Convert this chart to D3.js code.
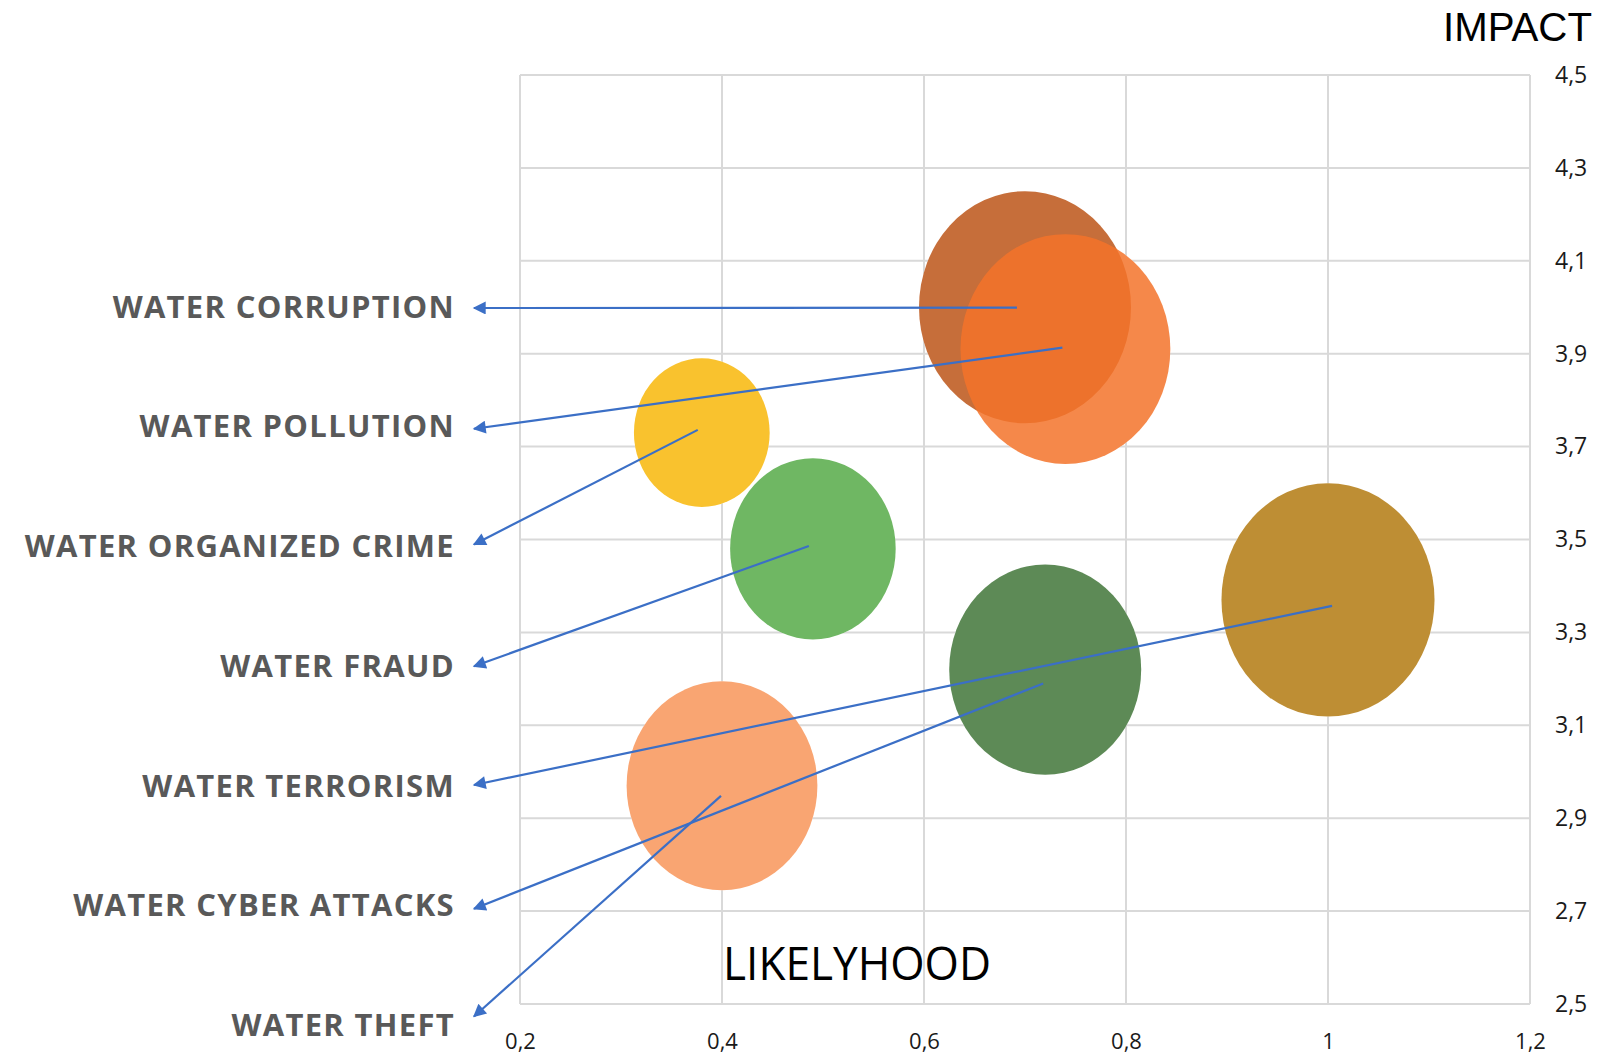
<!DOCTYPE html>
<html>
<head>
<meta charset="utf-8">
<script src="https://cdn.jsdelivr.net/npm/d3@7"></script>
<style>
  html, body { margin: 0; padding: 0; background: #ffffff; }
  svg { display: block; }
</style>
</head>
<body>
<svg id="chart" width="1605" height="1058"></svg>
<script>
// ---------------- data ----------------
const categories = ["WATER CORRUPTION", "WATER POLLUTION", "WATER ORGANIZED CRIME", "WATER FRAUD",
                    "WATER TERRORISM", "WATER CYBER ATTACKS", "WATER THEFT"];
const likelihood = [0.70, 0.74, 0.38, 0.49, 1.00, 0.72, 0.40];
const impact     = [4.00, 3.91, 3.73, 3.48, 3.37, 3.22, 2.97];
const bubbleSize = [1.00, 0.98, 0.41, 0.61, 1.01, 0.82, 0.81];
// arrow anchor points (data units) inside each bubble
const arrowFromX = [0.692, 0.737, 0.376, 0.486, 1.004, 0.718, 0.399];
const arrowFromY = [3.999, 3.913, 3.736, 3.486, 3.357, 3.190, 2.948];
const xTicks = [0.2, 0.4, 0.6, 0.8, 1.0, 1.2];
const yTicks = [2.5, 2.7, 2.9, 3.1, 3.3, 3.5, 3.7, 3.9, 4.1, 4.3, 4.5];
const xTitle = "LIKELYHOOD";
const yTitle = "IMPACT";

// ---------------- styles ----------------
const bubbleColors  = ["#C66E3A", "#F3732A", "#F9C22E", "#6FB763", "#BE8E34", "#5D8A56", "#F9A572"];
const bubbleOpacity = [1, 0.85, 1, 1, 1, 1, 1];
const tipDy = [0, 1, -3, -1, -2, 2, -10];

// ---------------- layout ----------------
const svg = d3.select("#chart");
const x = d3.scaleLinear().domain([0.2, 1.2]).range([520, 1530]);
const y = d3.scaleLinear().domain([2.5, 4.5]).range([1004, 75]);
const r = d3.scaleSqrt().domain([0, 1]).range([0, 106]);
const aspect = 1.095;
const fmt = d => String(d).replace(".", ",");

// grid
const grid = svg.append("g");
grid.selectAll("line.v").data(xTicks).join("line")
  .attr("x1", d => x(d)).attr("x2", d => x(d))
  .attr("y1", y(4.5)).attr("y2", y(2.5))
  .attr("stroke", "#D9D9D9").attr("stroke-width", 2);
grid.selectAll("line.h").data(yTicks).join("line")
  .attr("x1", x(0.2)).attr("x2", x(1.2))
  .attr("y1", d => y(d)).attr("y2", d => y(d))
  .attr("stroke", "#D9D9D9").attr("stroke-width", 2);

// axes labels
const yAxis = d3.axisRight(y).tickValues(yTicks).tickFormat(fmt).tickSize(0).tickPadding(25);
const gy = svg.append("g").attr("transform", `translate(${x(1.2)},0)`).call(yAxis);
gy.select(".domain").remove();
gy.selectAll("text").attr("font-family", "'Open Sans', sans-serif").attr("font-size", 23).attr("fill", "#1a1a1a");

const xAxis = d3.axisBottom(x).tickValues(xTicks).tickFormat(fmt).tickSize(0).tickPadding(29);
const gx = svg.append("g").attr("transform", `translate(0,${y(2.5)})`).call(xAxis);
gx.select(".domain").remove();
gx.selectAll("text").attr("font-family", "'Open Sans', sans-serif").attr("font-size", 22).attr("fill", "#1a1a1a");

// bubbles
const idx = d3.range(categories.length);
const bubbles = svg.append("g");
// white underlay so gridlines do not show through the translucent bubble
bubbles.selectAll("ellipse.under").data(idx).join("ellipse")
  .attr("cx", i => x(likelihood[i])).attr("cy", i => y(impact[i]))
  .attr("rx", i => r(bubbleSize[i])).attr("ry", i => r(bubbleSize[i]) * aspect)
  .attr("fill", "#ffffff");
bubbles.selectAll("ellipse.b").data(idx).join("ellipse")
  .attr("cx", i => x(likelihood[i])).attr("cy", i => y(impact[i]))
  .attr("rx", i => r(bubbleSize[i])).attr("ry", i => r(bubbleSize[i]) * aspect)
  .attr("fill", i => bubbleColors[i]).attr("fill-opacity", i => bubbleOpacity[i]);

// titles
svg.append("text").text(yTitle)
  .attr("x", 1592).attr("y", 41).attr("text-anchor", "end")
  .attr("font-family", "'Liberation Sans', Arial, sans-serif").attr("font-size", 41)
  .attr("textLength", 149).attr("lengthAdjust", "spacingAndGlyphs").attr("fill", "#000");
svg.append("text").text(xTitle)
  .attr("x", 723).attr("y", 980).attr("text-anchor", "start")
  .attr("font-family", "'Open Sans', sans-serif").attr("font-size", 46)
  .attr("textLength", 268).attr("lengthAdjust", "spacingAndGlyphs").attr("fill", "#000");

// category labels
const labelX = 455, labelY0 = 307, labelStep = 119.75, tipX = 474;
svg.append("g").selectAll("text").data(idx).join("text")
  .text(i => categories[i])
  .attr("x", labelX).attr("y", i => labelY0 + i * labelStep + 10.5)
  .attr("text-anchor", "end")
  .attr("font-family", "'Open Sans', sans-serif").attr("font-weight", 700)
  .attr("font-size", 31).attr("letter-spacing", "1.3px").attr("fill", "#595959");

// arrows
const defs = svg.append("defs");
defs.append("marker").attr("id", "arrowhead")
  .attr("viewBox", "0 0 10 10").attr("refX", 9).attr("refY", 5)
  .attr("markerWidth", 16).attr("markerHeight", 13)
  .attr("markerUnits", "userSpaceOnUse").attr("orient", "auto")
  .append("path").attr("d", "M0,0 L10,5 L0,10 Z").attr("fill", "#3B6FC6");
svg.append("g").selectAll("line").data(idx).join("line")
  .attr("x1", i => x(arrowFromX[i])).attr("y1", i => y(arrowFromY[i]))
  .attr("x2", tipX).attr("y2", i => labelY0 + 1 + i * labelStep + tipDy[i])
  .attr("stroke", "#3B6FC6").attr("stroke-width", 2.2)
  .attr("marker-end", "url(#arrowhead)");
</script>
</body>
</html>
